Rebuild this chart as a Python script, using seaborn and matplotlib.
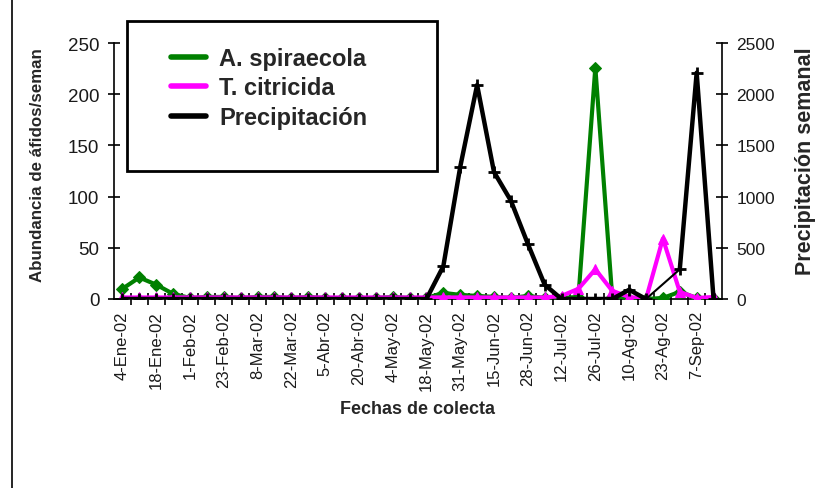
import numpy as np
import pandas as pd
import matplotlib
matplotlib.use("Agg")
import matplotlib.pyplot as plt
import seaborn as sns
from matplotlib.patches import Rectangle
from matplotlib.lines import Line2D

# ---- data ----
tick_labels = ["4-Ene-02", "18-Ene-02", "1-Feb-02", "23-Feb-02", "8-Mar-02", "22-Mar-02",
               "5-Abr-02", "20-Abr-02", "4-May-02", "18-May-02", "31-May-02", "15-Jun-02",
               "28-Jun-02", "12-Jul-02", "26-Jul-02", "10-Ag-02", "23-Ag-02", "7-Sep-02"]
semana = list(range(36))
spiraecola = [10, 21, 14, 5, 1, 2, 2, 1, 2, 2, 1, 2, 1, 1, 1, 1, 2, 1,
              1, 6, 4, 3, 2, 1, 3, 1, 1, 2, 226, 2, 0, 0, 1, 7, 1, 0]
citricida = [1.5, 1.5, 1.5, 1.5, 1.5, 1.5, 1.5, 1.5, 1.5, 1.5, 1.5, 1.5, 1.5, 1.5, 1.5, 1.5, 1.5, 1.5,
             1.5, 1.5, 1.5, 1.5, 1.5, 1.5, 1.5, 1.5, 3, 10, 29, 8, 2, 0, 59, 7, 1, 2]
precipitacion = [0, 0, 0, 0, 0, 0, 0, 0, 0, 0, 0, 0, 0, 0, 0, 0, 0, 0,
                 0, 320, 1290, 2090, 1240, 960, 540, 140, 0, 0, 0, 0, 90, 0, np.nan, 290, 2210, 0]

df = pd.DataFrame({"semana": semana, "A. spiraecola": spiraecola,
                   "T. citricida": citricida, "Precipitación": precipitacion})

sns.set_theme(style="white")
plt.rcParams["font.family"] = ["Liberation Sans", "DejaVu Sans"]

W, H = 817, 489
fig = plt.figure(figsize=(W / 100, H / 100), dpi=100)
fig.patch.set_facecolor("white")
ax = fig.add_axes([114 / W, 1 - 300 / H, 608 / W, 256 / H])
ax2 = ax.twinx()

green = "#008000"
magenta = "#FF00FF"

sns.lineplot(data=df, x="semana", y="A. spiraecola", ax=ax, color=green, lw=3,
             marker="D", markersize=6, markeredgecolor=green, zorder=3)
sns.lineplot(data=df, x="semana", y="T. citricida", ax=ax, color=magenta, lw=3,
             marker="^", markersize=7, markeredgecolor=magenta, zorder=4)

# thin connector where the weekly value is missing, then the thick series
sns.lineplot(data=df, x="semana", y="Precipitación", ax=ax2, color="black", lw=1.5, zorder=2)
ax2.plot(df["semana"], df["Precipitación"], color="black", lw=3.2,
         marker="+", markersize=9, markeredgewidth=2, zorder=3)

ax.set_xlim(-0.5, 35.5)
ax.set_ylim(0, 250)
ax2.set_ylim(0, 2500)
ax.set_yticks(range(0, 251, 50))
ax2.set_yticks(range(0, 2501, 500))
ax.set_xticks(semana[::2])
ax.set_xticklabels(tick_labels, rotation=90)
ax.set_xticks([k + 0.5 for k in semana[:-1]], minor=True)

for a in (ax, ax2):
    a.set_xlabel("")
    a.set_ylabel("")
    a.spines["top"].set_visible(False)
    for s in a.spines.values():
        s.set_color("black")
        s.set_linewidth(1.2)
ax.spines["right"].set_visible(False)
ax2.spines["left"].set_visible(False)
ax2.spines["bottom"].set_visible(False)

ax.tick_params(axis="y", direction="inout", length=9, width=1.2, labelsize=13.5, pad=6, colors="black")
ax2.tick_params(axis="y", direction="inout", length=9, width=1.2, labelsize=12.5, pad=6, colors="black")
ax.tick_params(axis="x", which="major", length=0, labelsize=12, pad=8, colors="black")
ax.tick_params(axis="x", which="minor", direction="inout", length=8, width=1.2, bottom=True, colors="black")
for t in ax.get_yticklabels() + ax2.get_yticklabels() + ax.get_xticklabels():
    t.set_color("#1a1a1a")

fig.text(38 / W, 1 - 165 / H, "Abundancia de áfidos/seman", rotation=90,
         ha="center", va="center", fontsize=12.2, fontweight="bold")
fig.text(806 / W, 1 - 161 / H, "Precipitación semanal", rotation=90,
         ha="center", va="center", fontsize=15.5, fontweight="bold")
fig.text(418 / W, 1 - 410 / H, "Fechas de colecta", ha="center", va="center",
         fontsize=13, fontweight="bold")

# legend box
fig.patches.append(Rectangle((127 / W, 1 - 172 / H), 310 / W, 150 / H, transform=fig.transFigure,
                             facecolor="white", edgecolor="black", lw=2, zorder=4))
handles = [Line2D([], [], color=green, lw=4),
           Line2D([], [], color=magenta, lw=4),
           Line2D([], [], color="black", lw=4)]
leg = fig.legend(handles, ["A. spiraecola", "T. citricida", "Precipitación"],
                 loc="upper left", bbox_to_anchor=(159 / W, 1 - 36 / H), frameon=False,
                 borderpad=0, prop={"size": 17, "weight": "bold"}, handlelength=1.5,
                 handletextpad=0.55, labelspacing=0.28)
leg.set_zorder(6)

# left border line of the frame
fig.add_artist(Line2D([12 / W, 12 / W], [0, 1], transform=fig.transFigure, color="black", lw=1.2))

fig.savefig("out.png", dpi=100)
